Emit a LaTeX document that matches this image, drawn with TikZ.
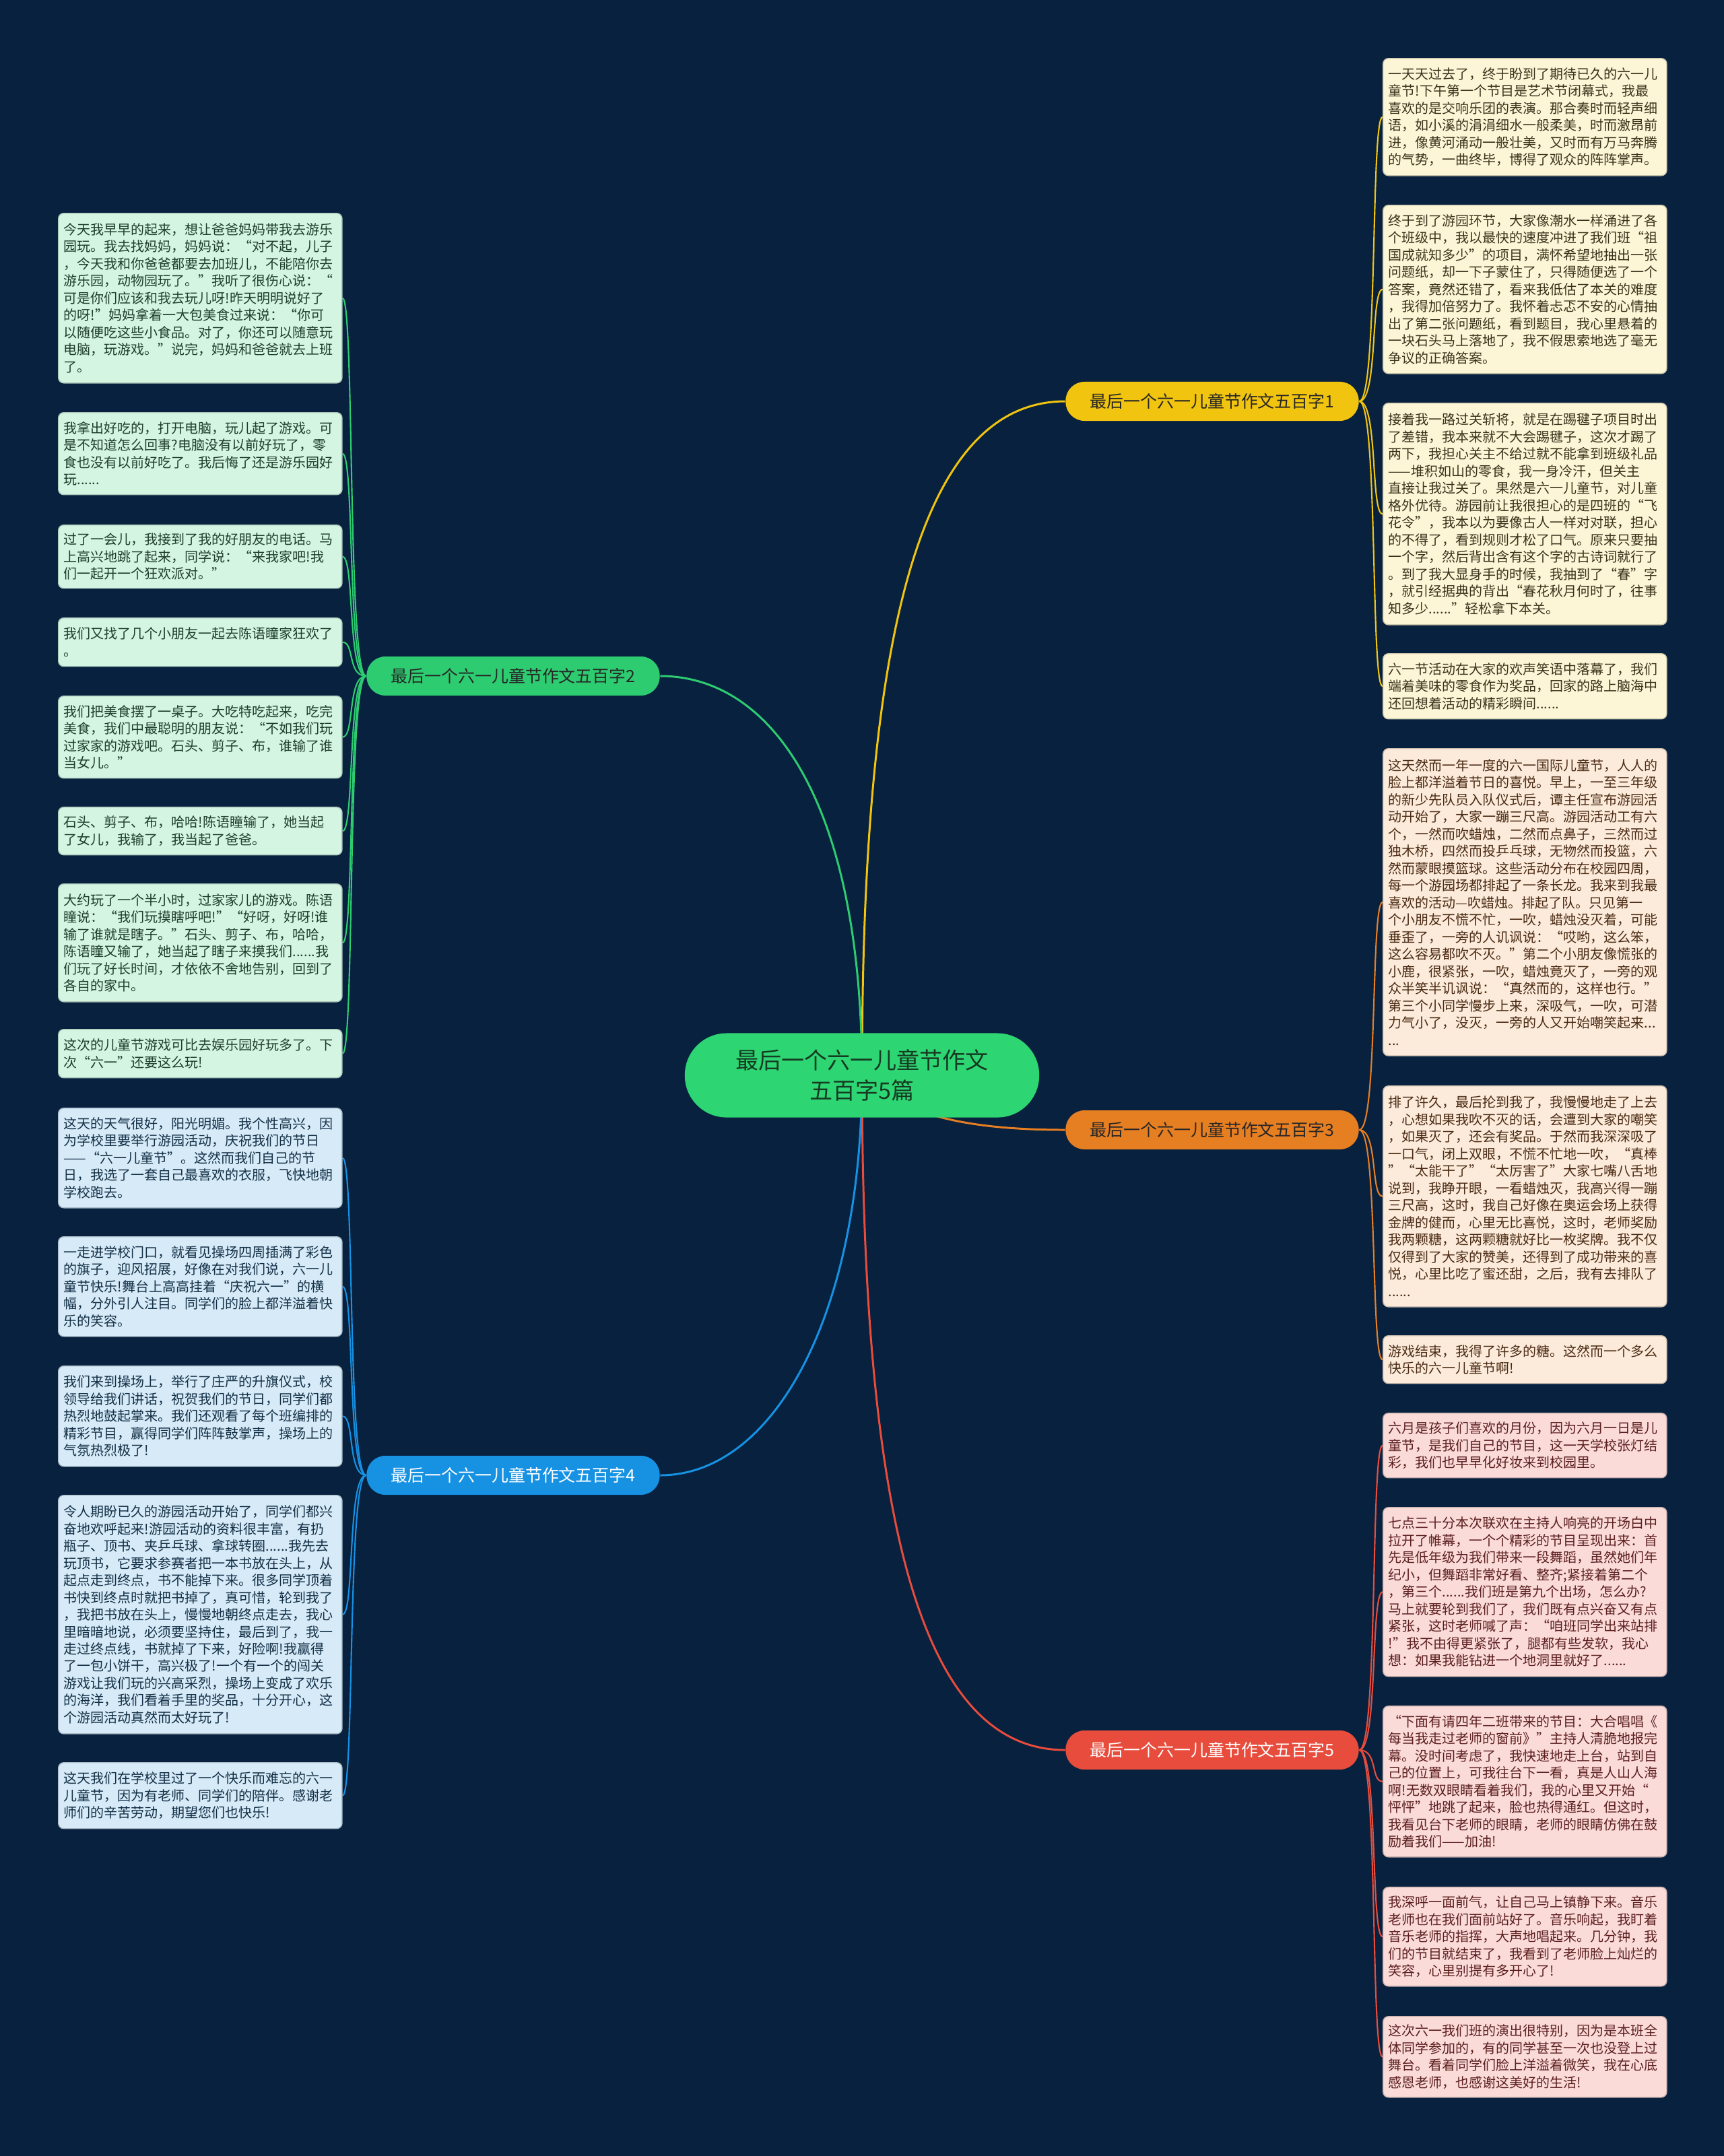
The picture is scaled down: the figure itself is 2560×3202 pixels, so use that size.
\documentclass[tikz,border=0pt]{standalone}
\usepackage{fontspec}
\setmainfont{Noto Sans CJK SC}
\usetikzlibrary{backgrounds}
\definecolor{bgnavy}{RGB}{7,33,63}
\definecolor{rootgreen}{RGB}{46,213,115}
\definecolor{roottext}{RGB}{22,58,34}
\definecolor{yelline}{RGB}{241,196,15}
\definecolor{yelleaf}{RGB}{253,246,214}
\definecolor{yeltext}{RGB}{58,50,28}
\definecolor{orgline}{RGB}{230,126,34}
\definecolor{orgleaf}{RGB}{252,235,218}
\definecolor{orgtext}{RGB}{74,42,20}
\definecolor{redline}{RGB}{231,76,60}
\definecolor{redleaf}{RGB}{250,219,216}
\definecolor{redtext}{RGB}{92,31,31}
\definecolor{grnline}{RGB}{46,204,113}
\definecolor{grnleaf}{RGB}{213,245,227}
\definecolor{grntext}{RGB}{30,61,43}
\definecolor{bluline}{RGB}{23,145,226}
\definecolor{bluleaf}{RGB}{214,234,248}
\definecolor{blutext}{RGB}{19,47,69}
\tikzset{
  leaf/.style={anchor=north west, rounded corners=0.08cm, text width=4.05cm,
               inner xsep=0.08cm, inner ysep=0pt, align=left, line width=0.4pt,
               font=\fontsize{5.69pt}{7.25pt}\selectfont},
  leafy/.style={leaf, fill=yelleaf, draw=yelleaf!80!black, text=yeltext},
  leafo/.style={leaf, fill=orgleaf, draw=orgleaf!80!black, text=orgtext},
  leafr/.style={leaf, fill=redleaf, draw=redleaf!80!black, text=redtext},
  leafg/.style={leaf, fill=grnleaf, draw=grnleaf!80!black, text=grntext},
  leafb/.style={leaf, fill=bluleaf, draw=bluleaf!80!black, text=blutext},
  branch/.style={minimum width=4.35cm, minimum height=0.58cm, rounded corners=0.28cm,
                 inner sep=0pt, font=\fontsize{7.1pt}{8pt}\selectfont},
  trunk/.style={line width=0.85pt},
  twig/.style={line width=0.6pt},
}

\begin{document}
\begin{tikzpicture}[x=0.01cm, y=-0.01cm]
  \useasboundingbox (0,0) rectangle (2560,3202);

  % Root
  \node[fill=rootgreen, text=roottext, minimum width=5.26cm, minimum height=1.25cm,
        rounded corners=0.62cm, align=center, inner sep=0pt,
        font=\fontsize{9.7pt}{12.8pt}\selectfont] (root) at (1280,1597)
        {最后一个六一儿童节作文\\五百字5篇};

  % Branches
  \node[branch, fill=yelline, text=black!85] (sec1) at (1800,596) {最后一个六一儿童节作文五百字1};
  \node[branch, fill=grnline, text=black!85] (sec2) at (762,1004) {最后一个六一儿童节作文五百字2};
  \node[branch, fill=orgline, text=black!85] (sec3) at (1800,1678) {最后一个六一儿童节作文五百字3};
  \node[branch, fill=bluline, text=white] (sec4) at (762,2191) {最后一个六一儿童节作文五百字4};
  \node[branch, fill=redline, text=white] (sec5) at (1800,2599) {最后一个六一儿童节作文五百字5};

  % Leaves of 1
  \node[leafy, minimum height=1.74cm] (p1a) at (2053,86) {一天天过去了，终于盼到了期待已久的六一儿\\
童节!下午第一个节目是艺术节闭幕式，我最\\
喜欢的是交响乐团的表演。那合奏时而轻声细\\
语，如小溪的涓涓细水一般柔美，时而激昂前\\
进，像黄河涌动一般壮美，又时而有万马奔腾\\
的气势，一曲终毕，博得了观众的阵阵掌声。};
  \node[leafy, minimum height=2.50cm] (p1b) at (2053,304) {终于到了游园环节，大家像潮水一样涌进了各\\
个班级中，我以最快的速度冲进了我们班“祖\\
国成就知多少”的项目，满怀希望地抽出一张\\
问题纸，却一下子蒙住了，只得随便选了一个\\
答案，竟然还错了，看来我低估了本关的难度\\
，我得加倍努力了。我怀着忐忑不安的心情抽\\
出了第二张问题纸，看到题目，我心里悬着的\\
一块石头马上落地了，我不假思索地选了毫无\\
争议的正确答案。};
  \node[leafy, minimum height=3.29cm] (p1c) at (2053,598) {接着我一路过关斩将，就是在踢毽子项目时出\\
了差错，我本来就不大会踢毽子，这次才踢了\\
两下，我担心关主不给过就不能拿到班级礼品\\
——堆积如山的零食，我一身冷汗，但关主\\
直接让我过关了。果然是六一儿童节，对儿童\\
格外优待。游园前让我很担心的是四班的“飞\\
花令”，我本以为要像古人一样对对联，担心\\
的不得了，看到规则才松了口气。原来只要抽\\
一个字，然后背出含有这个字的古诗词就行了\\
。到了我大显身手的时候，我抽到了“春”字\\
，就引经据典的背出“春花秋月何时了，往事\\
知多少......”轻松拿下本关。};
  \node[leafy, minimum height=0.97cm] (p1d) at (2053,970) {六一节活动在大家的欢声笑语中落幕了，我们\\
端着美味的零食作为奖品，回家的路上脑海中\\
还回想着活动的精彩瞬间......};

  % Leaves of 3
  \node[leafo, minimum height=4.56cm] (p3a) at (2053,1111) {这天然而一年一度的六一国际儿童节，人人的\\
脸上都洋溢着节日的喜悦。早上，一至三年级\\
的新少先队员入队仪式后，谭主任宣布游园活\\
动开始了，大家一蹦三尺高。游园活动工有六\\
个，一然而吹蜡烛，二然而点鼻子，三然而过\\
独木桥，四然而投乒乓球，无物然而投篮，六\\
然而蒙眼摸篮球。这些活动分布在校园四周，\\
每一个游园场都排起了一条长龙。我来到我最\\
喜欢的活动—吹蜡烛。排起了队。只见第一\\
个小朋友不慌不忙，一吹，蜡烛没灭着，可能\\
垂歪了，一旁的人讥讽说：“哎哟，这么笨，\\
这么容易都吹不灭。”第二个小朋友像慌张的\\
小鹿，很紧张，一吹，蜡烛竟灭了，一旁的观\\
众半笑半讥讽说：“真然而的，这样也行。”\\
第三个小同学慢步上来，深吸气，一吹，可潜\\
力气小了，没灭，一旁的人又开始嘲笑起来...\\
...};
  \node[leafo, minimum height=3.28cm] (p3b) at (2053,1612) {排了许久，最后抡到我了，我慢慢地走了上去\\
，心想如果我吹不灭的话，会遭到大家的嘲笑\\
，如果灭了，还会有奖品。于然而我深深吸了\\
一口气，闭上双眼，不慌不忙地一吹，“真棒\\
”“太能干了”“太厉害了”大家七嘴八舌地\\
说到，我睁开眼，一看蜡烛灭，我高兴得一蹦\\
三尺高，这时，我自己好像在奥运会场上获得\\
金牌的健而，心里无比喜悦，这时，老师奖励\\
我两颗糖，这两颗糖就好比一枚奖牌。我不仅\\
仅得到了大家的赞美，还得到了成功带来的喜\\
悦，心里比吃了蜜还甜，之后，我有去排队了\\
......};
  \node[leafo, minimum height=0.71cm] (p3c) at (2053,1983) {游戏结束，我得了许多的糖。这然而一个多么\\
快乐的六一儿童节啊!};

  % Leaves of 5
  \node[leafr, minimum height=0.96cm] (p5a) at (2053,2098) {六月是孩子们喜欢的月份，因为六月一日是儿\\
童节，是我们自己的节目，这一天学校张灯结\\
彩，我们也早早化好妆来到校园里。};
  \node[leafr, minimum height=2.51cm] (p5b) at (2053,2238) {七点三十分本次联欢在主持人响亮的开场白中\\
拉开了帷幕，一个个精彩的节目呈现出来：首\\
先是低年级为我们带来一段舞蹈，虽然她们年\\
纪小，但舞蹈非常好看、整齐;紧接着第二个\\
，第三个......我们班是第九个出场，怎么办?\\
马上就要轮到我们了，我们既有点兴奋又有点\\
紧张，这时老师喊了声：“咱班同学出来站排\\
!”我不由得更紧张了，腿都有些发软，我心\\
想：如果我能钻进一个地洞里就好了......};
  \node[leafr, minimum height=2.24cm] (p5c) at (2053,2533) {“下面有请四年二班带来的节目：大合唱唱《\\
每当我走过老师的窗前》”主持人清脆地报完\\
幕。没时间考虑了，我快速地走上台，站到自\\
己的位置上，可我往台下一看，真是人山人海\\
啊!无数双眼睛看着我们，我的心里又开始“\\
怦怦”地跳了起来，脸也热得通红。但这时，\\
我看见台下老师的眼睛，老师的眼睛仿佛在鼓\\
励着我们——加油!};
  \node[leafr, minimum height=1.47cm] (p5d) at (2053,2802) {我深呼一面前气，让自己马上镇静下来。音乐\\
老师也在我们面前站好了。音乐响起，我盯着\\
音乐老师的指挥，大声地唱起来。几分钟，我\\
们的节目就结束了，我看到了老师脸上灿烂的\\
笑容，心里别提有多开心了!};
  \node[leafr, minimum height=1.20cm] (p5e) at (2053,2994) {这次六一我们班的演出很特别，因为是本班全\\
体同学参加的，有的同学甚至一次也没登上过\\
舞台。看着同学们脸上洋溢着微笑，我在心底\\
感恩老师，也感谢这美好的生活!};

  % Leaves of 2
  \node[leafg, minimum height=2.52cm] (p2a) at (86,316) {今天我早早的起来，想让爸爸妈妈带我去游乐\\
园玩。我去找妈妈，妈妈说：“对不起，儿子\\
，今天我和你爸爸都要去加班儿，不能陪你去\\
游乐园，动物园玩了。”我听了很伤心说：“\\
可是你们应该和我去玩儿呀!昨天明明说好了\\
的呀!”妈妈拿着一大包美食过来说：“你可\\
以随便吃这些小食品。对了，你还可以随意玩\\
电脑，玩游戏。”说完，妈妈和爸爸就去上班\\
了。};
  \node[leafg, minimum height=1.22cm] (p2b) at (86,612) {我拿出好吃的，打开电脑，玩儿起了游戏。可\\
是不知道怎么回事?电脑没有以前好玩了，零\\
食也没有以前好吃了。我后悔了还是游乐园好\\
玩......};
  \node[leafg, minimum height=0.94cm] (p2c) at (86,779) {过了一会儿，我接到了我的好朋友的电话。马\\
上高兴地跳了起来，同学说：“来我家吧!我\\
们一起开一个狂欢派对。”};
  \node[leafg, minimum height=0.72cm] (p2d) at (86,917) {我们又找了几个小朋友一起去陈语瞳家狂欢了\\
。};
  \node[leafg, minimum height=1.22cm] (p2e) at (86,1033) {我们把美食摆了一桌子。大吃特吃起来，吃完\\
美食，我们中最聪明的朋友说：“不如我们玩\\
过家家的游戏吧。石头、剪子、布，谁输了谁\\
当女儿。”};
  \node[leafg, minimum height=0.71cm] (p2f) at (86,1198) {石头、剪子、布，哈哈!陈语瞳输了，她当起\\
了女儿，我输了，我当起了爸爸。};
  \node[leafg, minimum height=1.75cm] (p2g) at (86,1312) {大约玩了一个半小时，过家家儿的游戏。陈语\\
瞳说：“我们玩摸瞎呼吧!”“好呀，好呀!谁\\
输了谁就是瞎子。”石头、剪子、布，哈哈，\\
陈语瞳又输了，她当起了瞎子来摸我们......我\\
们玩了好长时间，才依依不舍地告别，回到了\\
各自的家中。};
  \node[leafg, minimum height=0.72cm] (p2h) at (86,1528) {这次的儿童节游戏可比去娱乐园好玩多了。下\\
次“六一”还要这么玩!};

  % Leaves of 4
  \node[leafb, minimum height=1.48cm] (p4a) at (86,1645) {这天的天气很好，阳光明媚。我个性高兴，因\\
为学校里要举行游园活动，庆祝我们的节日\\
——“六一儿童节”。这然而我们自己的节\\
日，我选了一套自己最喜欢的衣服，飞快地朝\\
学校跑去。};
  \node[leafb, minimum height=1.48cm] (p4b) at (86,1836) {一走进学校门口，就看见操场四周插满了彩色\\
的旗子，迎风招展，好像在对我们说，六一儿\\
童节快乐!舞台上高高挂着“庆祝六一”的横\\
幅，分外引人注目。同学们的脸上都洋溢着快\\
乐的笑容。};
  \node[leafb, minimum height=1.49cm] (p4c) at (86,2028) {我们来到操场上，举行了庄严的升旗仪式，校\\
领导给我们讲话，祝贺我们的节日，同学们都\\
热烈地鼓起掌来。我们还观看了每个班编排的\\
精彩节目，赢得同学们阵阵鼓掌声，操场上的\\
气氛热烈极了!};
  \node[leafb, minimum height=3.54cm] (p4d) at (86,2220) {令人期盼已久的游园活动开始了，同学们都兴\\
奋地欢呼起来!游园活动的资料很丰富，有扔\\
瓶子、顶书、夹乒乓球、拿球转圈......我先去\\
玩顶书，它要求参赛者把一本书放在头上，从\\
起点走到终点，书不能掉下来。很多同学顶着\\
书快到终点时就把书掉了，真可惜，轮到我了\\
，我把书放在头上，慢慢地朝终点走去，我心\\
里暗暗地说，必须要坚持住，最后到了，我一\\
走过终点线，书就掉了下来，好险啊!我赢得\\
了一包小饼干，高兴极了!一个有一个的闯关\\
游戏让我们玩的兴高采烈，操场上变成了欢乐\\
的海洋，我们看着手里的奖品，十分开心，这\\
个游园活动真然而太好玩了!};
  \node[leafb, minimum height=0.98cm] (p4e) at (86,2617) {这天我们在学校里过了一个快乐而难忘的六一\\
儿童节，因为有老师、同学们的陪伴。感谢老\\
师们的辛苦劳动，期望您们也快乐!};

  \begin{scope}[on background layer]
    \fill[bgnavy] (0,0) rectangle (2560,3202);
    % Trunks
    \draw[trunk, yelline] (root.center) .. controls (1280,1000) and (1350,596) .. (sec1.west);
    \draw[trunk, grnline] (root.center) .. controls (1280,1200) and (1150,1004) .. (sec2.east);
    \draw[trunk, orgline] (root.center) .. controls (1340,1660) and (1450,1678) .. (sec3.west);
    \draw[trunk, bluline] (root.center) .. controls (1280,1950) and (1150,2191) .. (sec4.east);
    \draw[trunk, redline] (root.center) .. controls (1280,2300) and (1380,2599) .. (sec5.west);
    % Twigs
    \foreach \l in {p1a,p1b,p1c,p1d}
      \draw[twig, yelline] (sec1.east) .. controls +(28,0) and +(-18,0) .. (\l.west);
    \foreach \l in {p3a,p3b,p3c}
      \draw[twig, orgline] (sec3.east) .. controls +(28,0) and +(-18,0) .. (\l.west);
    \foreach \l in {p5a,p5b,p5c,p5d,p5e}
      \draw[twig, redline] (sec5.east) .. controls +(28,0) and +(-18,0) .. (\l.west);
    \foreach \l in {p2a,p2b,p2c,p2d,p2e,p2f,p2g,p2h}
      \draw[twig, grnline] (sec2.west) .. controls +(-28,0) and +(18,0) .. (\l.east);
    \foreach \l in {p4a,p4b,p4c,p4d,p4e}
      \draw[twig, bluline] (sec4.west) .. controls +(-28,0) and +(18,0) .. (\l.east);
  \end{scope}
\end{tikzpicture}
\end{document}
